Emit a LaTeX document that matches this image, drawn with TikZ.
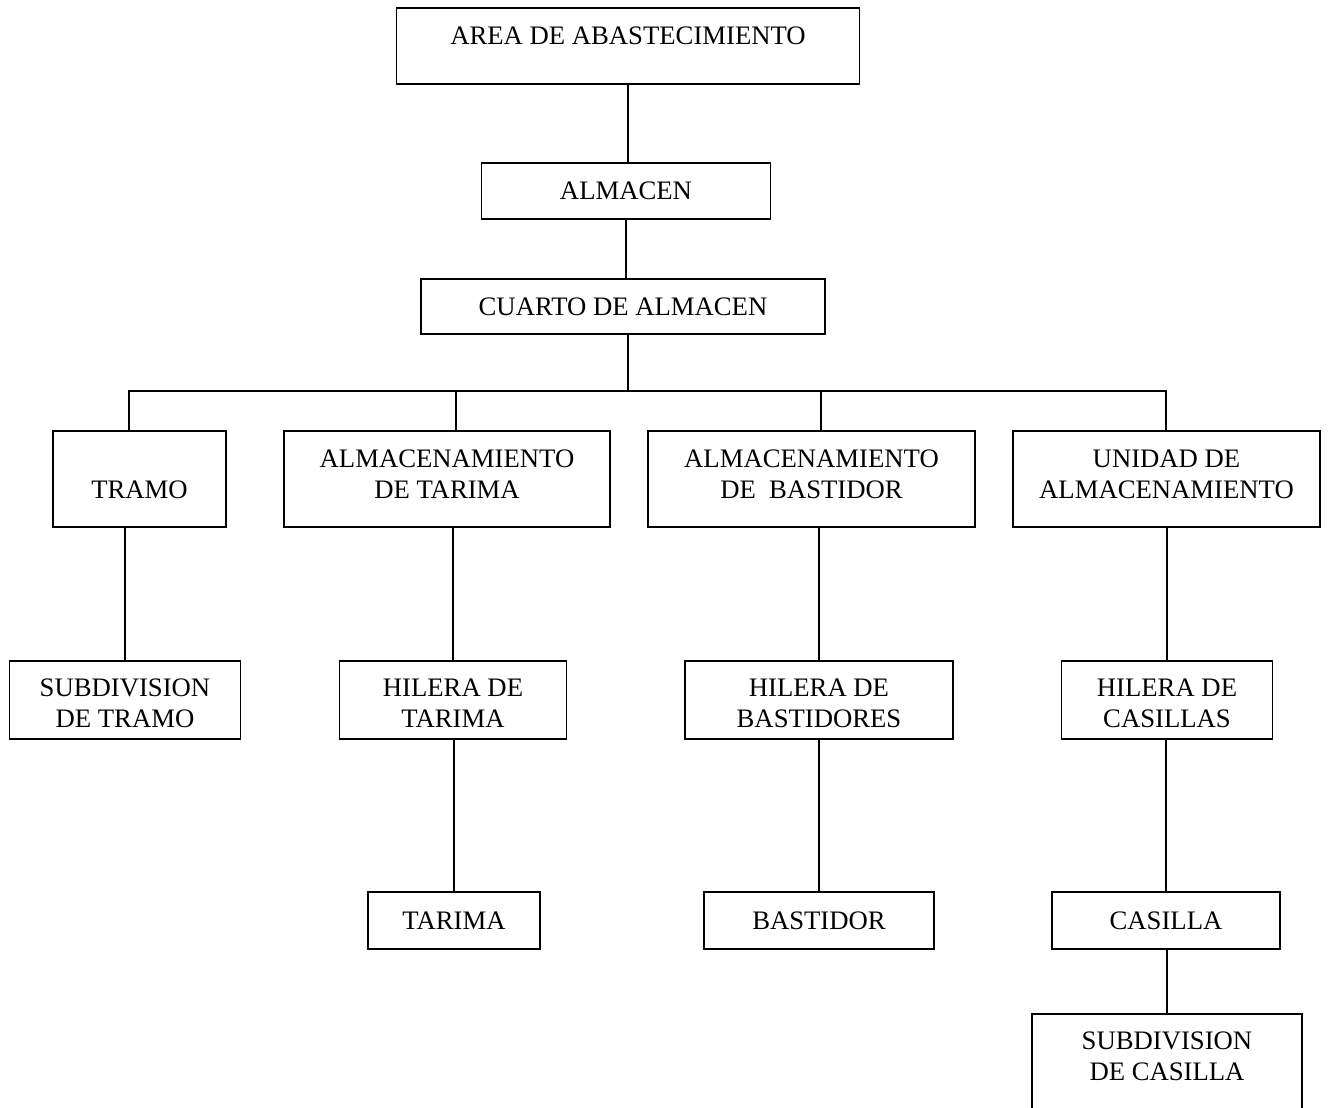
\documentclass[tikz,border=0pt]{standalone}
\usepackage{fontspec}
\setmainfont{Liberation Serif}
\begin{document}
\begin{tikzpicture}[x=1pt,y=-1pt,
  line width=1.5pt,
  box/.style={draw, rectangle, inner sep=0pt, align=center,
    font=\fontsize{26.7}{31}\selectfont},
  twoline/.style={text height=50pt, text depth=12pt},
  rowline/.style={text height=54pt, text depth=0pt},
  link/.style={draw, line width=1.5pt}]
\clip (0,0) rectangle (1328,1108);

% top of the hierarchy
\node[box, minimum width=463, minimum height=76, text height=18pt, text depth=20pt]
  (area) at (628,46) {AREA DE ABASTECIMIENTO};
\node[box, minimum width=289, minimum height=56] (almacen) at (626,191) {ALMACEN};
\node[box, minimum width=404, minimum height=55] (cuarto) at (623,306.5) {CUARTO DE ALMACEN};

% second level
\node[box, minimum width=173, minimum height=96, text height=38pt, text depth=0pt]
  (tramo) at (139.5,479) {TRAMO};
\node[box, twoline, minimum width=326, minimum height=96] (atar) at (447,479) {ALMACENAMIENTO\\DE TARIMA};
\node[box, twoline, minimum width=327, minimum height=96] (abas) at (811.5,479) {ALMACENAMIENTO\\DE \ BASTIDOR};
\node[box, twoline, minimum width=307, minimum height=96] (unidad) at (1166.5,479) {UNIDAD DE\\ALMACENAMIENTO};

% third level
\node[box, rowline, minimum width=231, minimum height=78] (subtramo) at (125,700) {SUBDIVISION\\DE TRAMO};
\node[box, rowline, minimum width=227, minimum height=78] (htar) at (453,700) {HILERA DE\\TARIMA};
\node[box, rowline, minimum width=268, minimum height=78] (hbas) at (819,700) {HILERA DE\\BASTIDORES};
\node[box, rowline, minimum width=211, minimum height=78] (hcas) at (1167,700) {HILERA DE\\CASILLAS};

% fourth level
\node[box, minimum width=172, minimum height=57] (tarima) at (454,920.5) {TARIMA};
\node[box, minimum width=230, minimum height=57] (bastidor) at (819,920.5) {BASTIDOR};
\node[box, minimum width=228, minimum height=57] (casilla) at (1166,920.5) {CASILLA};

% fifth level, running past the lower edge
\node[box, anchor=north, minimum width=270, inner ysep=17pt, text height=50pt, text depth=70pt]
  (subcas) at (1167,1013) {SUBDIVISION\\DE CASILLA};

% connectors
\coordinate (bus) at (628,391);
\coordinate (d1) at (129,391);
\coordinate (d2) at (456,391);
\coordinate (d3) at (821,391);
\coordinate (d4) at (1166,391);

\draw[link] (area.south) -- (area.south |- almacen.north);
\draw[link] (almacen.south) -- (almacen.south |- cuarto.north);
\draw[link] (bus |- cuarto.south) -- (bus);
\draw[link] (d1 |- tramo.north) -- (d1) -- (d4) -- (d4 |- unidad.north);
\draw[link] (d2) -- (d2 |- atar.north);
\draw[link] (d3) -- (d3 |- abas.north);

\draw[link] (subtramo.north) -- (subtramo.north |- tramo.south);
\draw[link] (htar.north) -- (htar.north |- atar.south);
\draw[link] (hbas.north) -- (hbas.north |- abas.south);
\draw[link] (hcas.north) -- (hcas.north |- unidad.south);
\draw[link] (tarima.north) -- (tarima.north |- htar.south);
\draw[link] (bastidor.north) -- (bastidor.north |- hbas.south);
\draw[link] (casilla.north) -- (casilla.north |- hcas.south);
\draw[link] (subcas.north) -- (subcas.north |- casilla.south);
\end{tikzpicture}
\end{document}
